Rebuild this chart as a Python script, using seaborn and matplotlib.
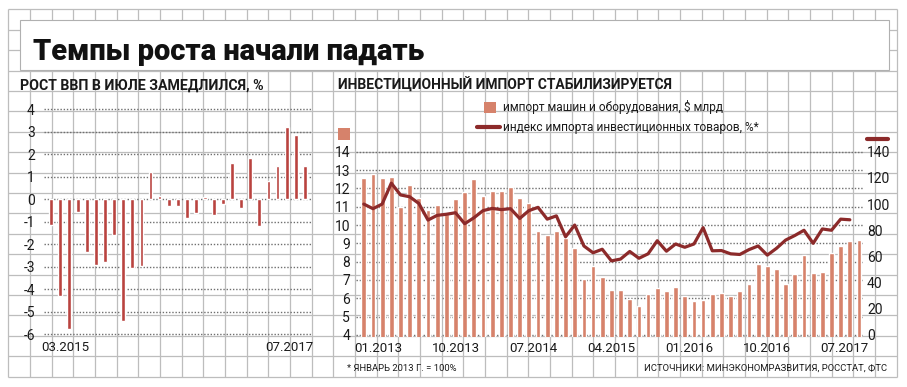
# Темпы роста начали падать — two small panels on graph-paper background
import numpy as np
import pandas as pd
import matplotlib
matplotlib.use("Agg")
import matplotlib.pyplot as plt
import seaborn as sns
from matplotlib.patches import Rectangle
from matplotlib.lines import Line2D

# ------------------------------------------------------------
# DATA
# ------------------------------------------------------------
gdp_months = list(pd.date_range("2015-03-01", "2017-07-01", freq="MS").strftime("%m.%Y"))
gdp_growth = [-1.15, -4.3, -5.75, -0.55, -2.35, -2.9, -2.8, -1.6, -5.4, -3.05,
              -2.95, 1.2, 0.15, -0.3, -0.3, -0.85, -0.6, 0.1, -0.7, -0.2,
              1.6, -0.4, 1.85, -1.2, 0.8, 1.5, 3.2, 2.85, 1.5]

imp_months = list(pd.date_range("2013-01-01", "2017-07-01", freq="MS").strftime("%m.%Y"))
machine_import = [12.55, 12.8, 12.55, 12.6, 11.0, 12.2, 11.5, 10.8, 11.1, 10.6,
                  11.4, 11.8, 12.5, 11.6, 11.85, 11.85, 12.1, 11.45, 11.2, 9.7,
                  9.45, 9.7, 9.3, 8.75, 7.05, 7.75, 7.15, 6.45, 6.45, 5.95,
                  5.6, 6.25, 6.55, 6.4, 6.6, 6.1, 5.85, 5.9, 6.25, 6.3,
                  6.15, 6.4, 6.8, 7.85, 7.75, 7.6, 6.8, 7.35, 8.35, 7.4,
                  7.45, 8.45, 8.85, 9.15, 9.2]
# index of investment goods import, Jan 2013 = 100 (up to 06.2017)
import_index = [100, 96.5, 100, 116, 107, 105.6, 100.5, 87.8, 91.4, 92.2,
                93.4, 85, 89.5, 95, 96.7, 95.8, 96.5, 89, 95, 97.5,
                88.5, 91, 75, 84, 68, 62.8, 65.5, 56.6, 58, 63.8,
                58.6, 62, 72, 64, 69.5, 67, 69.5, 82, 64.3, 64.5,
                62, 61.5, 65.2, 68, 61, 66.2, 72.5, 76, 80, 70,
                81, 80, 88.5, 88]

gdp_tick_labels = ["03.2015", "07.2017"]
imp_tick_labels = ["01.2013", "10.2013", "07.2014", "04.2015", "01.2016", "10.2016", "07.2017"]

gdp_df = pd.DataFrame({"month": gdp_months, "growth": gdp_growth})
imp_df = pd.DataFrame({"month": imp_months, "value": machine_import})
idx_df = pd.DataFrame({"pos": np.arange(len(import_index)), "index": import_index})

# ------------------------------------------------------------
# STYLE
# ------------------------------------------------------------
sns.set_style("white")
plt.rcParams["font.family"] = ["Roboto", "DejaVu Sans"]
plt.rcParams["axes.unicode_minus"] = False

RED_DARK = "#b9433f"
SALMON = "#d6826b"
WINE = "#8c2a2a"
TXT = "#1a1a1a"

W, H = 907, 387


def box(x0, y0, x1, y1):
    # pixel box (top-left origin) -> figure fraction
    return [x0 / W, 1 - y1 / H, (x1 - x0) / W, (y1 - y0) / H]


fig = plt.figure(figsize=(W / 100, H / 100), dpi=100)

# --- graph paper background + title box ---
bg = fig.add_axes([0, 0, 1, 1], zorder=0)
bg.set_xlim(0, W)
bg.set_ylim(H, 0)
bg.axis("off")
gx = 8.3 + 21.67 * np.arange(42)
gy = 9.3 + 20.4 * np.arange(19)
bg.vlines(gx, gy[0], gy[-1], color="#bdbdbd", lw=0.9)
bg.hlines(gy, gx[0], gx[-1], color="#bdbdbd", lw=0.9)
bg.add_patch(Rectangle((20, 20), 869, 50, fc="white", ec="#b0b0b0", lw=0.8, zorder=3))

fig.text(33 / W, 1 - 60 / H, "Темпы роста начали падать", fontsize=21,
         fontweight="black", color="#111111", va="baseline", ha="left")

fig.text(20 / W, 1 - 89.5 / H, "РОСТ ВВП В ИЮЛЕ ЗАМЕДЛИЛСЯ, %", fontsize=10.2,
         fontweight="bold", color=TXT, va="baseline", ha="left")
fig.text(338 / W, 1 - 89.5 / H, "ИНВЕСТИЦИОННЫЙ ИМПОРТ СТАБИЛИЗИРУЕТСЯ", fontsize=10,
         fontweight="bold", color=TXT, va="baseline", ha="left")

# legend (drawn by hand like the original)
bg.add_patch(Rectangle((484, 101.5), 12, 11, fc=SALMON, ec="none", zorder=4))
bg.add_line(Line2D([477, 500], [126.8, 126.8], color=WINE, lw=3, solid_capstyle="round", zorder=4))
fig.text(503 / W, 1 - 107.5 / H, "импорт машин и оборудования, $ млрд", fontsize=8.6,
         color=TXT, va="center", ha="left")
fig.text(503 / W, 1 - 127 / H, "индекс импорта инвестиционных товаров, %*", fontsize=8.6,
         color=TXT, va="center", ha="left")
# axis keys
bg.add_patch(Rectangle((338, 128), 12, 12, fc=SALMON, ec="none", zorder=4))
bg.add_line(Line2D([867, 888], [139.3, 139.3], color=WINE, lw=3, solid_capstyle="round", zorder=4))

fig.text(347 / W, 1 - 371 / H, "* ЯНВАРЬ 2013 Г. = 100%", fontsize=6.8,
         color=TXT, va="baseline", ha="left")
fig.text(887 / W, 1 - 370.5 / H, "ИСТОЧНИКИ: МИНЭКОНОМРАЗВИТИЯ, РОССТАТ, ФТС", fontsize=6.8,
         color=TXT, va="baseline", ha="right")

dot_grid = dict(color="#6f6f6f", linestyle=(0, (1, 1.3)), linewidth=1.0)

# ------------------------------------------------------------
# LEFT PANEL — GDP growth
# ------------------------------------------------------------
ax1 = fig.add_axes(box(44, 107.05, 312, 336.55), zorder=2)
ax1.set_facecolor("none")
sns.barplot(data=gdp_df, x="month", y="growth", color=RED_DARK, saturation=1,
            width=0.42, ax=ax1)
ax1.set_ylim(-6.1, 4.1)
ax1.set_xlim(-0.74, 28.8)
ax1.set_yticks(range(-6, 5))
ax1.set_xticks([1.6, 26.3], gdp_tick_labels)
ax1.set_axisbelow(True)
ax1.yaxis.grid(True, **dot_grid)
ax1.xaxis.grid(False)
ax1.set_xlabel("")
ax1.set_ylabel("")
for s in ax1.spines.values():
    s.set_visible(False)
ax1.tick_params(axis="y", length=0, pad=6.5, labelsize=10, labelcolor=TXT)
ax1.tick_params(axis="x", length=0, pad=3.5, labelsize=9.5, labelcolor=TXT)

# ------------------------------------------------------------
# RIGHT PANEL — investment import
# ------------------------------------------------------------
ax2 = fig.add_axes(box(356, 149.9, 863.6, 336.8), zorder=2)
ax2.set_facecolor("none")
sns.barplot(data=imp_df, x="month", y="value", color=SALMON, saturation=1,
            width=0.52, ax=ax2)
ax2.set_ylim(3.9, 14.1)
ax2.set_yticks(range(4, 15))
ax2.set_axisbelow(True)
ax2.yaxis.grid(True, **dot_grid)
ax2.xaxis.grid(False)
ax2.set_xlabel("")
ax2.set_ylabel("")

ax3 = ax2.twinx()
sns.lineplot(data=idx_df, x="pos", y="index", color=WINE, linewidth=2.3, ax=ax3)
ax3.set_ylim(-1.4, 141.4)
ax3.set_yticks(range(0, 141, 20))
ax3.set_ylabel("")
ax3.grid(False)

ax2.set_xlim(-0.85, 54.5)
ax2.set_xticks([1.55, 10.0, 18.5, 27.0, 35.5, 44.0, 52.4], imp_tick_labels)

for a in (ax2, ax3):
    for s in a.spines.values():
        s.set_visible(False)
ax2.tick_params(axis="y", length=0, pad=4.3, labelsize=10, labelcolor=TXT)
ax2.tick_params(axis="x", length=0, pad=3.5, labelsize=9.5, labelcolor=TXT)
ax3.tick_params(axis="y", length=0, pad=2.5, labelsize=10, labelcolor=TXT)

fig.savefig("out.png", dpi=100)
